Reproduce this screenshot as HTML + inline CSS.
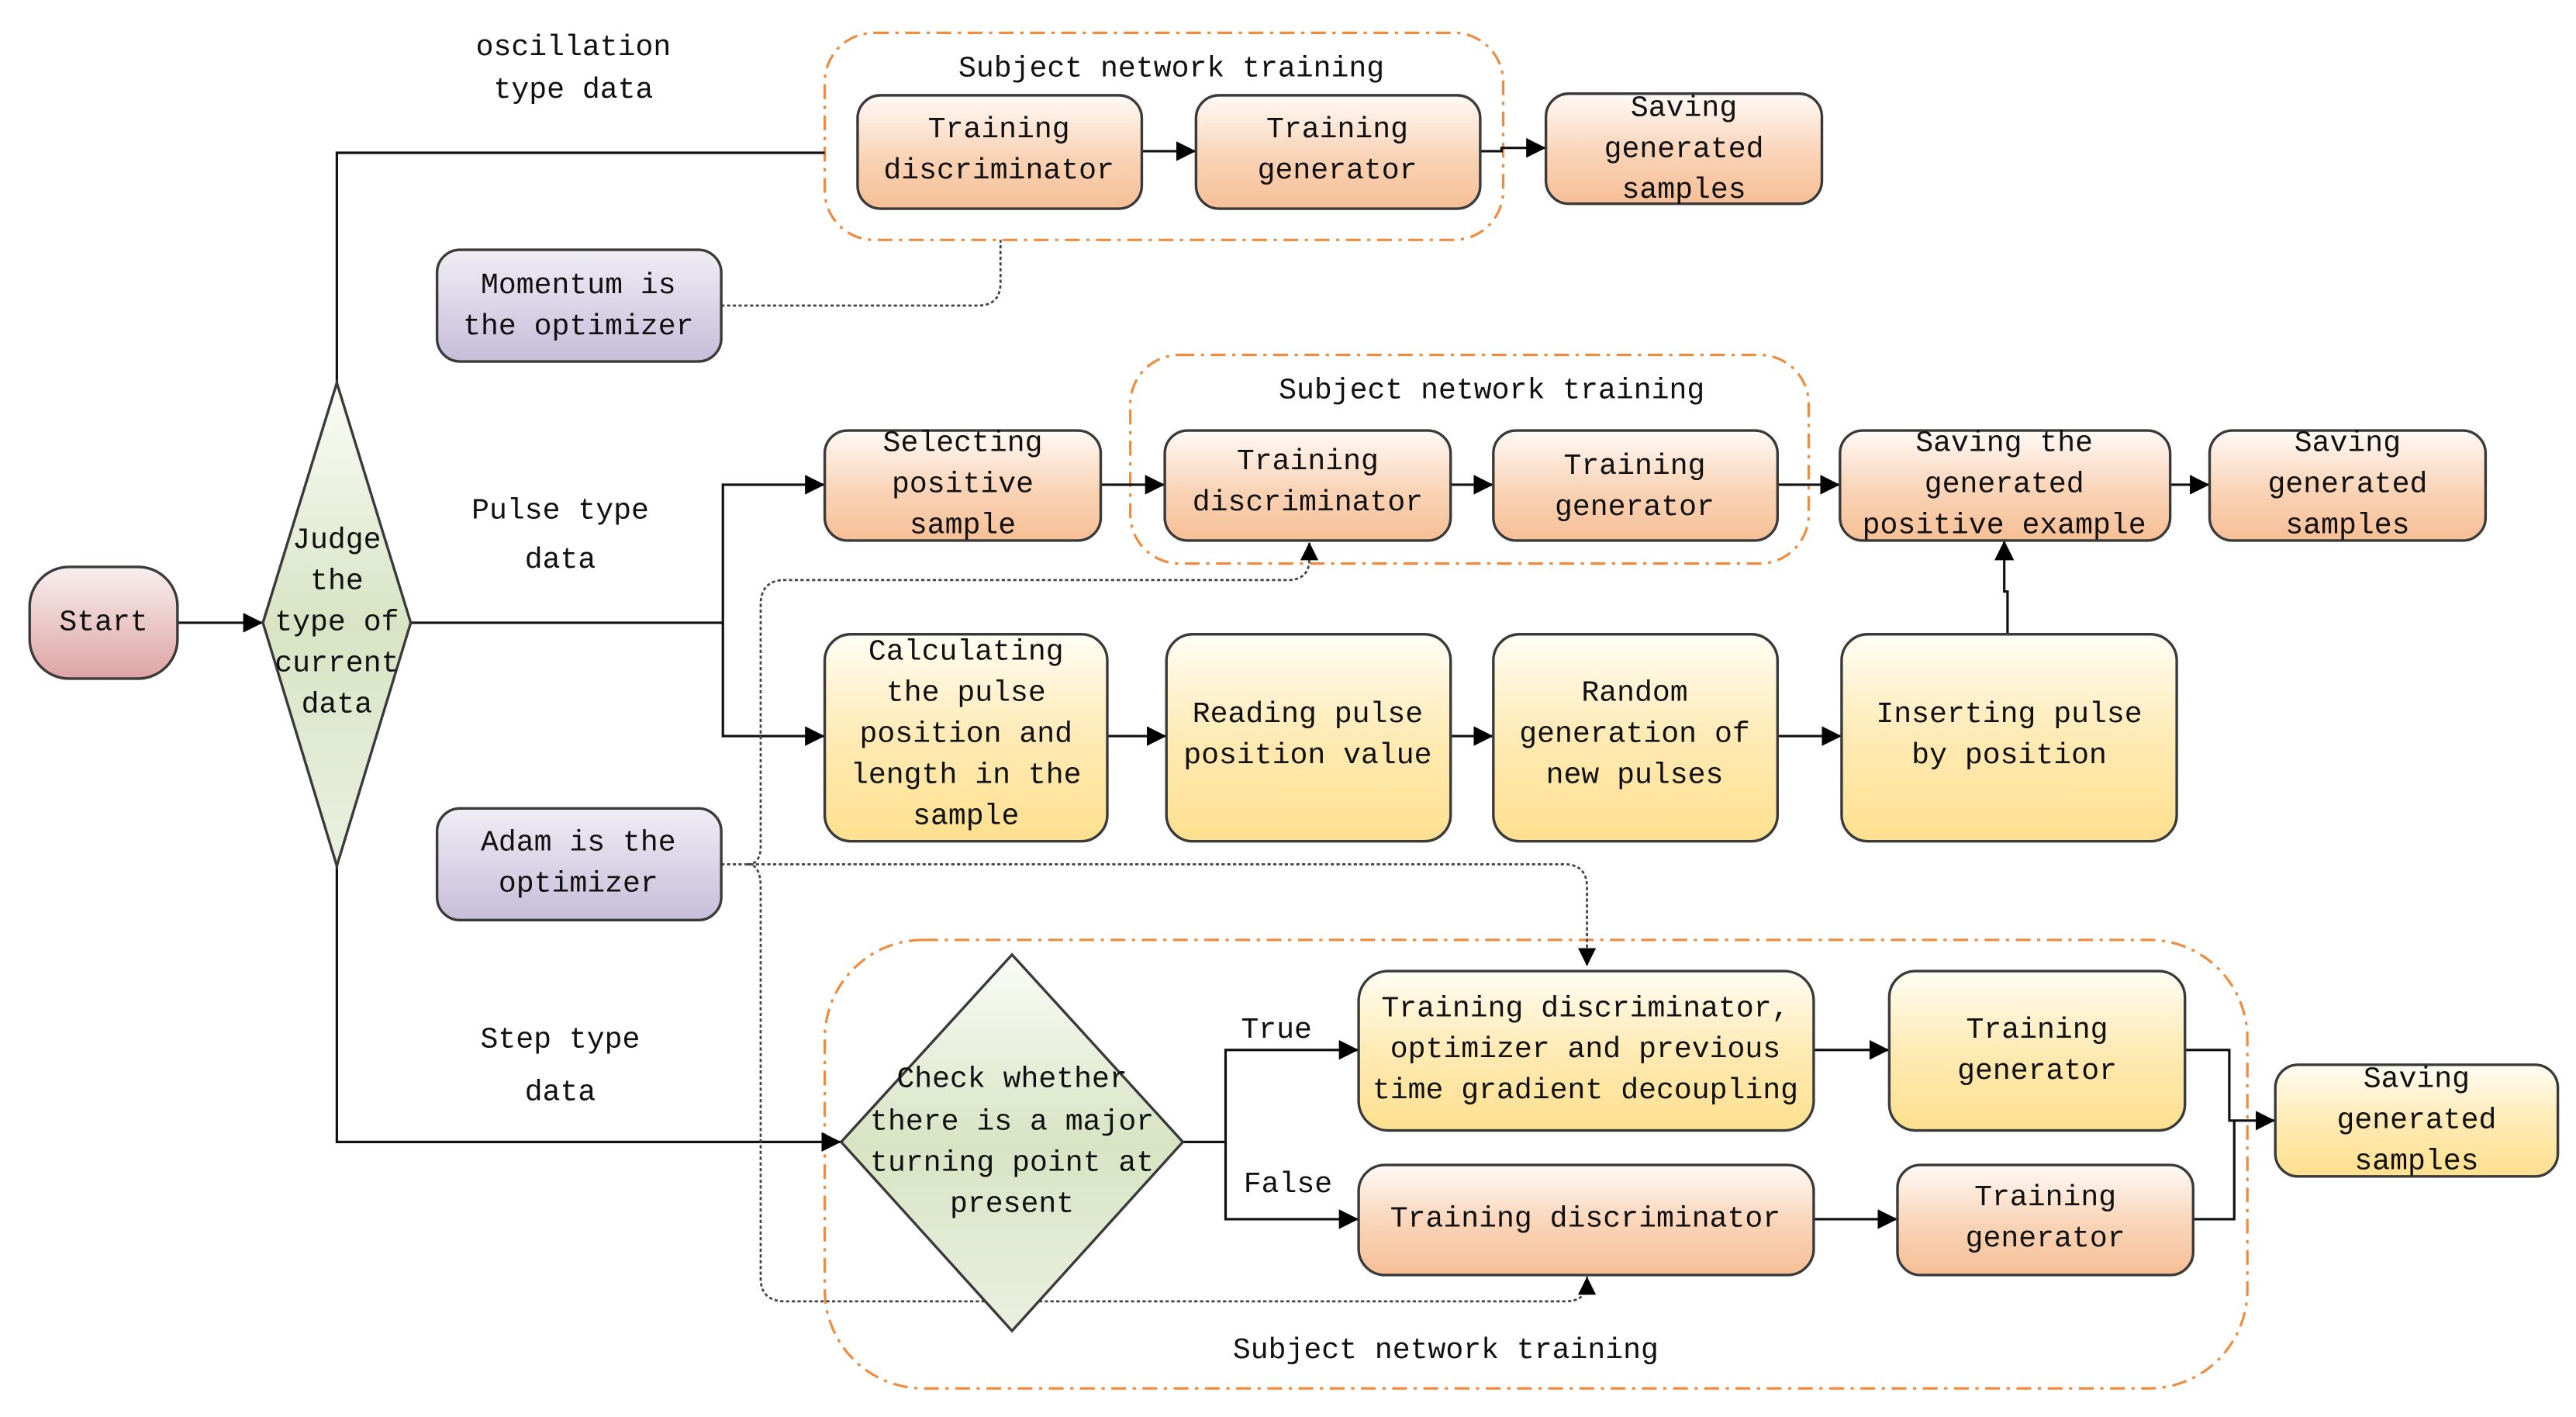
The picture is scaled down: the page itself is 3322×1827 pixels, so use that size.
<!DOCTYPE html>
<html><head><meta charset="utf-8"><style>
html,body{margin:0;padding:0;background:#fff;}
svg{display:block}
text{font-family:"Liberation Mono","DejaVu Sans Mono",monospace;font-size:18px;fill:#111;text-anchor:middle;dominant-baseline:central}
.b{stroke:#3a3a3a;stroke-width:1.6}
.ln{stroke:#111;stroke-width:1.5;fill:none}
.dot{stroke:#444;stroke-width:1.3;fill:none;stroke-dasharray:2 1.5}
.grp{stroke:#f08a3c;stroke-width:1.5;fill:none;stroke-dasharray:9 4 2 4}
</style></head><body>
<svg width="3322" height="1827" viewBox="0 0 1568 862.4" xmlns="http://www.w3.org/2000/svg">
<defs>
<linearGradient id="go" x1="0" y1="0" x2="0" y2="1"><stop offset="0" stop-color="#fffaf7"/><stop offset=".55" stop-color="#f9d3b6"/><stop offset="1" stop-color="#f6bf96"/></linearGradient>
<linearGradient id="gy" x1="0" y1="0" x2="0" y2="1"><stop offset="0" stop-color="#fffdf4"/><stop offset=".5" stop-color="#feeab4"/><stop offset="1" stop-color="#fde08f"/></linearGradient>
<linearGradient id="gp" x1="0" y1="0" x2="0" y2="1"><stop offset="0" stop-color="#efedf5"/><stop offset="1" stop-color="#c6bdd9"/></linearGradient>
<linearGradient id="gr" x1="0" y1="0" x2="0" y2="1"><stop offset="0" stop-color="#f8eeee"/><stop offset="1" stop-color="#dea4a4"/></linearGradient>
<linearGradient id="gg" x1="0" y1="0" x2="0" y2="1"><stop offset="0" stop-color="#fafcf7"/><stop offset=".5" stop-color="#d8e4c4"/><stop offset="1" stop-color="#eaf0e0"/></linearGradient>
<marker id="a" viewBox="0 0 10 10" refX="10" refY="5" markerWidth="11" markerHeight="11" orient="auto" markerUnits="userSpaceOnUse"><path d="M0,0L10,5L0,10z" fill="#000"/></marker>
<marker id="a2" viewBox="0 0 10 10" refX="10" refY="5" markerWidth="12" markerHeight="12" orient="auto" markerUnits="userSpaceOnUse"><path d="M0,0L10,5L0,10z" fill="#000"/></marker>
</defs>

<rect class="grp" x="502" y="20" width="413" height="126" rx="30"/>
<text x="713" y="42">Subject network training</text>
<rect class="grp" x="688" y="216" width="413" height="127" rx="30"/>
<text x="908" y="238">Subject network training</text>
<rect class="grp" x="502" y="572" width="866" height="273" rx="60"/>
<text x="880" y="822">Subject network training</text>

<path class="ln" d="M108,379H160" marker-end="url(#a2)"/>
<path class="ln" d="M205,233V93H502"/>
<path class="ln" d="M250,379H440V295H502" marker-end="url(#a2)"/>
<path class="ln" d="M440,379V448H502" marker-end="url(#a2)"/>
<path class="ln" d="M205,527V695H512" marker-end="url(#a2)"/>
<path class="ln" d="M695,92H728" marker-end="url(#a2)"/>
<path class="ln" d="M901,92H914V90H941" marker-end="url(#a2)"/>
<path class="ln" d="M670,295H709" marker-end="url(#a2)"/>
<path class="ln" d="M883,295H909" marker-end="url(#a2)"/>
<path class="ln" d="M1082,295H1120" marker-end="url(#a2)"/>
<path class="ln" d="M1321,295H1345" marker-end="url(#a2)"/>
<path class="ln" d="M674,448H710" marker-end="url(#a2)"/>
<path class="ln" d="M883,448H909" marker-end="url(#a2)"/>
<path class="ln" d="M1082,448H1121" marker-end="url(#a2)"/>
<path class="ln" d="M1222,386V360H1220V329" marker-end="url(#a2)"/>
<path class="ln" d="M720,695H746V639H827" marker-end="url(#a2)"/>
<path class="ln" d="M746,695V742H827" marker-end="url(#a2)"/>
<path class="ln" d="M1104,639H1150" marker-end="url(#a2)"/>
<path class="ln" d="M1104,742H1155" marker-end="url(#a2)"/>
<path class="ln" d="M1330,639H1357V682H1385" marker-end="url(#a2)"/>
<path class="ln" d="M1335,742H1360V682"/>
<text x="777" y="627">True</text>
<text x="784" y="721">False</text>

<path class="dot" d="M439,186H595Q609,186 609,172V146"/>
<path class="dot" d="M439,526H952Q966,526 966,540V588" marker-end="url(#a)"/>
<path class="dot" d="M455,526Q463,526 463,515V368Q463,353 478,353H784Q797,353 797,340V330" marker-end="url(#a)"/>
<path class="dot" d="M455,526Q463,526 463,540V778Q463,792 478,792H953Q966,792 966,780V777" marker-end="url(#a)"/>

<text x="349" y="29">oscillation</text>
<text x="349" y="55">type data</text>
<text x="341" y="311">Pulse type</text>
<text x="341" y="341">data</text>
<text x="341" y="633">Step type</text>
<text x="341" y="665">data</text>

<rect class="b" x="18" y="345" width="90" height="68" rx="24" fill="url(#gr)"/>
<text x="63" y="379">Start</text>
<path class="b" d="M205,233L250,379L205,527L160,379Z" fill="url(#gg)"/>
<text x="205" y="329">Judge</text><text x="205" y="354">the</text><text x="205" y="379">type of</text><text x="205" y="404">current</text><text x="205" y="429">data</text>

<rect class="b" x="522" y="58" width="173" height="69" rx="14" fill="url(#go)"/>
<text x="608" y="79">Training</text><text x="608" y="104">discriminator</text>
<rect class="b" x="728" y="58" width="173" height="69" rx="14" fill="url(#go)"/>
<text x="814" y="79">Training</text><text x="814" y="104">generator</text>
<rect class="b" x="941" y="57" width="168" height="67" rx="14" fill="url(#go)"/>
<text x="1025" y="66">Saving</text><text x="1025" y="91">generated</text><text x="1025" y="116">samples</text>

<rect class="b" x="266" y="152" width="173" height="68" rx="14" fill="url(#gp)"/>
<text x="352" y="174">Momentum is</text><text x="352" y="199">the optimizer</text>

<rect class="b" x="502" y="262" width="168" height="67" rx="14" fill="url(#go)"/>
<text x="586" y="270">Selecting</text><text x="586" y="295">positive</text><text x="586" y="320">sample</text>
<rect class="b" x="709" y="262" width="174" height="67" rx="14" fill="url(#go)"/>
<text x="796" y="281">Training</text><text x="796" y="306">discriminator</text>
<rect class="b" x="909" y="262" width="173" height="67" rx="14" fill="url(#go)"/>
<text x="995" y="284">Training</text><text x="995" y="309">generator</text>
<rect class="b" x="1120" y="262" width="201" height="67" rx="14" fill="url(#go)"/>
<text x="1220" y="270">Saving the</text><text x="1220" y="295">generated</text><text x="1220" y="320">positive example</text>
<rect class="b" x="1345" y="262" width="168" height="67" rx="14" fill="url(#go)"/>
<text x="1429" y="270">Saving</text><text x="1429" y="295">generated</text><text x="1429" y="320">samples</text>

<rect class="b" x="502" y="386" width="172" height="126" rx="16" fill="url(#gy)"/>
<text x="588" y="397">Calculating</text><text x="588" y="422">the pulse</text><text x="588" y="447">position and</text><text x="588" y="472">length in the</text><text x="588" y="497">sample</text>
<rect class="b" x="710" y="386" width="173" height="126" rx="16" fill="url(#gy)"/>
<text x="796" y="435">Reading pulse</text><text x="796" y="460">position value</text>
<rect class="b" x="909" y="386" width="173" height="126" rx="16" fill="url(#gy)"/>
<text x="995" y="422">Random</text><text x="995" y="447">generation of</text><text x="995" y="472">new pulses</text>
<rect class="b" x="1121" y="386" width="204" height="126" rx="16" fill="url(#gy)"/>
<text x="1223" y="435">Inserting pulse</text><text x="1223" y="460">by position</text>

<rect class="b" x="266" y="492" width="173" height="68" rx="14" fill="url(#gp)"/>
<text x="352" y="513">Adam is the</text><text x="352" y="538">optimizer</text>

<path class="b" stroke-width="1.2" d="M616,581L720,695L616,810L512,695Z" fill="url(#gg)"/>
<text x="616" y="657">Check whether</text><text x="616" y="683">there is a major</text><text x="616" y="708">turning point at</text><text x="616" y="733">present</text>
<rect class="b" x="827" y="591" width="277" height="97" rx="18" fill="url(#gy)"/>
<text x="965" y="614">Training discriminator,</text><text x="965" y="639">optimizer and previous</text><text x="965" y="664">time gradient decoupling</text>
<rect class="b" x="1150" y="591" width="180" height="97" rx="16" fill="url(#gy)"/>
<text x="1240" y="627">Training</text><text x="1240" y="652">generator</text>
<rect class="b" x="827" y="709" width="277" height="67" rx="16" fill="url(#go)"/>
<text x="965" y="742">Training discriminator</text>
<rect class="b" x="1155" y="709" width="180" height="67" rx="14" fill="url(#go)"/>
<text x="1245" y="729">Training</text><text x="1245" y="754">generator</text>
<rect class="b" x="1385" y="648" width="172" height="68" rx="14" fill="url(#gy)"/>
<text x="1471" y="657">Saving</text><text x="1471" y="682">generated</text><text x="1471" y="707">samples</text>
</svg>
</body></html>
